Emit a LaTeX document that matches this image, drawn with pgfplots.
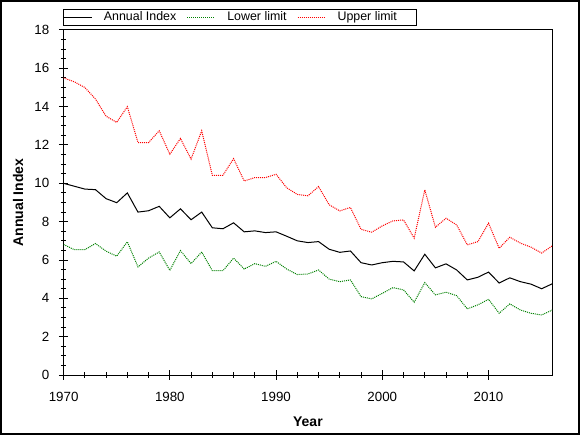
\documentclass[border=0pt]{standalone}
\usepackage{fontspec}
\setmainfont{Liberation Sans}
\usepackage{pgfplots}
\usepackage{pgfplotstable}
\pgfplotsset{compat=1.18}

\pgfplotstableread{
year idx  lo   hi
1970 10.00 6.81 15.50
1971 9.85 6.54 15.30
1972 9.70 6.54 15.00
1973 9.67 6.86 14.40
1974 9.20 6.46 13.50
1975 8.99 6.20 13.18
1976 9.50 6.95 14.00
1977 8.50 5.64 12.13
1978 8.57 6.10 12.13
1979 8.80 6.42 12.74
1980 8.20 5.46 11.52
1981 8.67 6.49 12.34
1982 8.10 5.81 11.26
1983 8.50 6.42 12.74
1984 7.68 5.44 10.42
1985 7.63 5.44 10.42
1986 7.94 6.10 11.29
1987 7.47 5.53 10.12
1988 7.52 5.81 10.30
1989 7.43 5.67 10.30
1990 7.47 5.93 10.47
1991 7.24 5.53 9.77
1992 7.00 5.24 9.42
1993 6.91 5.27 9.35
1994 6.96 5.48 9.83
1995 6.56 5.00 8.88
1996 6.40 4.87 8.56
1997 6.47 4.96 8.74
1998 5.86 4.09 7.60
1999 5.74 3.97 7.45
2000 5.86 4.26 7.78
2001 5.93 4.56 8.04
2002 5.90 4.44 8.09
2003 5.43 3.80 7.14
2004 6.30 4.82 9.66
2005 5.59 4.18 7.71
2006 5.80 4.32 8.18
2007 5.48 4.14 7.83
2008 4.96 3.45 6.79
2009 5.10 3.66 6.96
2010 5.37 3.95 7.92
2011 4.80 3.22 6.61
2012 5.07 3.71 7.19
2013 4.87 3.39 6.88
2014 4.74 3.22 6.67
2015 4.50 3.13 6.36
2016 4.76 3.39 6.74
}\annual

\definecolor{limred}{RGB}{255,0,0}
\definecolor{limgreen}{RGB}{0,128,0}

\begin{document}
\begin{tikzpicture}[x=1pt,y=1pt]
% page outline
\path[use as bounding box] (-47.7,-45) rectangle (387.3,281.25);
\draw[line width=1.5pt] (-46.95,-44.25) rectangle (386.55,280.5);
\begin{axis}[
  at={(0,0)}, anchor=south west,
  scale only axis,
  width=366.5pt, height=258.75pt,
  xmin=1970, xmax=2016,
  ymin=0, ymax=18,
  xtick={1970,1980,...,2010},
  minor x tick num=4,
  ytick={0,2,...,18},
  minor y tick num=3,
  tick pos=left,
  tick align=center,
  major tick length=7pt,
  minor tick length=4pt,
  every tick/.style={black, line width=0.75pt},
  axis line style={line width=0.75pt},
  /pgf/number format/assume math mode=true,
  /pgf/number format/1000 sep={},
  ticklabel style={font=\fontsize{10}{11}\selectfont},
  xticklabel style={yshift=-6pt},
  yticklabel style={xshift=-3.75pt},
  xlabel={\textbf{Year}},
  ylabel={\textbf{Annual Index}},
  label style={font=\fontsize{10.5}{12}\selectfont},
  xlabel style={at={(axis description cs:0.5,-0.1362)}, anchor=center},
  ylabel style={at={(axis description cs:-0.0933,0.5)}, anchor=center},
  legend columns=3,
  legend style={at={(0,1)}, anchor=south west, yshift=3.5pt,
    draw=black, line width=0.75pt, inner sep=0pt, outer sep=0pt,
    font=\fontsize{9.3}{10}\selectfont,
    /tikz/every even column/.append style={column sep=6pt},
    /tikz/every odd column/.append style={column sep=6.5pt}},
  legend image code/.code={\draw[#1] (0pt,0pt) -- (21pt,0pt);},
]
\addplot[black, line width=0.75pt] table[x=year, y=idx] {\annual};
\addlegendentry{Annual Index}
\addplot[limgreen, line width=0.75pt, dash pattern=on 0.75pt off 0.75pt] table[x=year, y=lo] {\annual};
\addlegendentry{Lower limit}
\addplot[limred, line width=0.75pt, dash pattern=on 0.75pt off 0.75pt] table[x=year, y=hi] {\annual};
\addlegendentry{Upper limit\kern13pt\null}
\end{axis}
\end{tikzpicture}
\end{document}
